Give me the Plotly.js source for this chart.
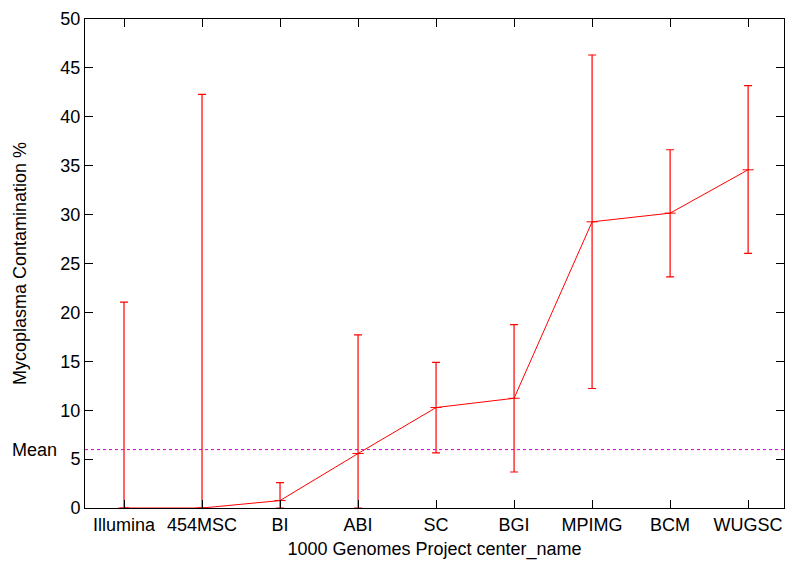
<!DOCTYPE html>
<html>
<head>
<meta charset="utf-8">
<script src="https://cdn.plot.ly/plotly-3.0.1.min.js"></script>
<style>html,body{margin:0;padding:0;background:#fff;}#chart{width:785px;height:565px;}</style>
</head>
<body>
<div id="chart"></div>
<script>
var centers = ["Illumina", "454MSC", "BI", "ABI", "SC", "BGI", "MPIMG", "BCM", "WUGSC"];
var meanValues = [0, 0, 0.76, 5.57, 10.27, 11.22, 29.26, 30.15, 34.58];
var upperValues = [21.05, 42.3, 2.6, 17.7, 14.88, 18.76, 46.32, 36.63, 43.18];
var lowerValues = [0, 0, 0, 0, 5.63, 3.68, 12.22, 23.63, 26.03];
var overallMean = 5.97;
var yTicks = [0, 5, 10, 15, 20, 25, 30, 35, 40, 45, 50];

var plus = upperValues.map(function(u, i){ return u - meanValues[i]; });
var minus = lowerValues.map(function(l, i){ return meanValues[i] - l; });

var trace = {
  type: 'scatter',
  mode: 'lines+markers',
  x: centers,
  y: meanValues,
  line: {color: '#ff0000', width: 1},
  marker: {symbol: 'line-ew', size: 8, line: {color: '#ff0000', width: 1}, color: '#ff0000'},
  error_y: {type: 'data', symmetric: false, array: plus, arrayminus: minus,
            color: '#ff0000', thickness: 1.2, width: 4},
  cliponaxis: false,
  showlegend: false,
  hoverinfo: 'x+y'
};

var font = {family: 'Liberation Sans, Arial, sans-serif', size: 18, color: '#000'};

var layout = {
  width: 785, height: 565,
  margin: {l: 85, r: 1, t: 19, b: 57},
  paper_bgcolor: '#fff', plot_bgcolor: '#fff',
  font: font,
  showlegend: false,
  xaxis: {
    type: 'category',
    range: [-0.5, 8.46],
    showgrid: false, zeroline: false,
    showline: true, linecolor: '#000', linewidth: 1, mirror: 'ticks',
    ticks: 'inside', ticklen: 8, tickcolor: '#000', tickwidth: 1,
    tickfont: font,
    title: {text: '1000 Genomes Project center_name', font: font, standoff: 8}
  },
  yaxis: {
    range: [0, 50],
    tickvals: yTicks,
    ticktext: yTicks.map(String),
    showgrid: false, zeroline: false,
    showline: true, linecolor: '#000', linewidth: 1, mirror: 'ticks',
    ticks: 'inside', ticklen: 8, tickcolor: '#000', tickwidth: 1,
    tickfont: font,
    title: {text: 'Mycoplasma Contamination %', font: font, standoff: 29}
  },
  shapes: [{
    type: 'line', xref: 'paper', yref: 'y', x0: 0, x1: 1, y0: overallMean, y1: overallMean,
    line: {color: '#cc00cc', width: 1, dash: 'dot'}
  }],
  annotations: [{
    text: 'Mean', xref: 'paper', yref: 'y', x: 0, y: overallMean,
    xanchor: 'right', yanchor: 'middle', xshift: -26, showarrow: false, font: font
  }]
};

Plotly.newPlot('chart', [trace], layout, {displayModeBar: false, staticPlot: true});
</script>
</body>
</html>
